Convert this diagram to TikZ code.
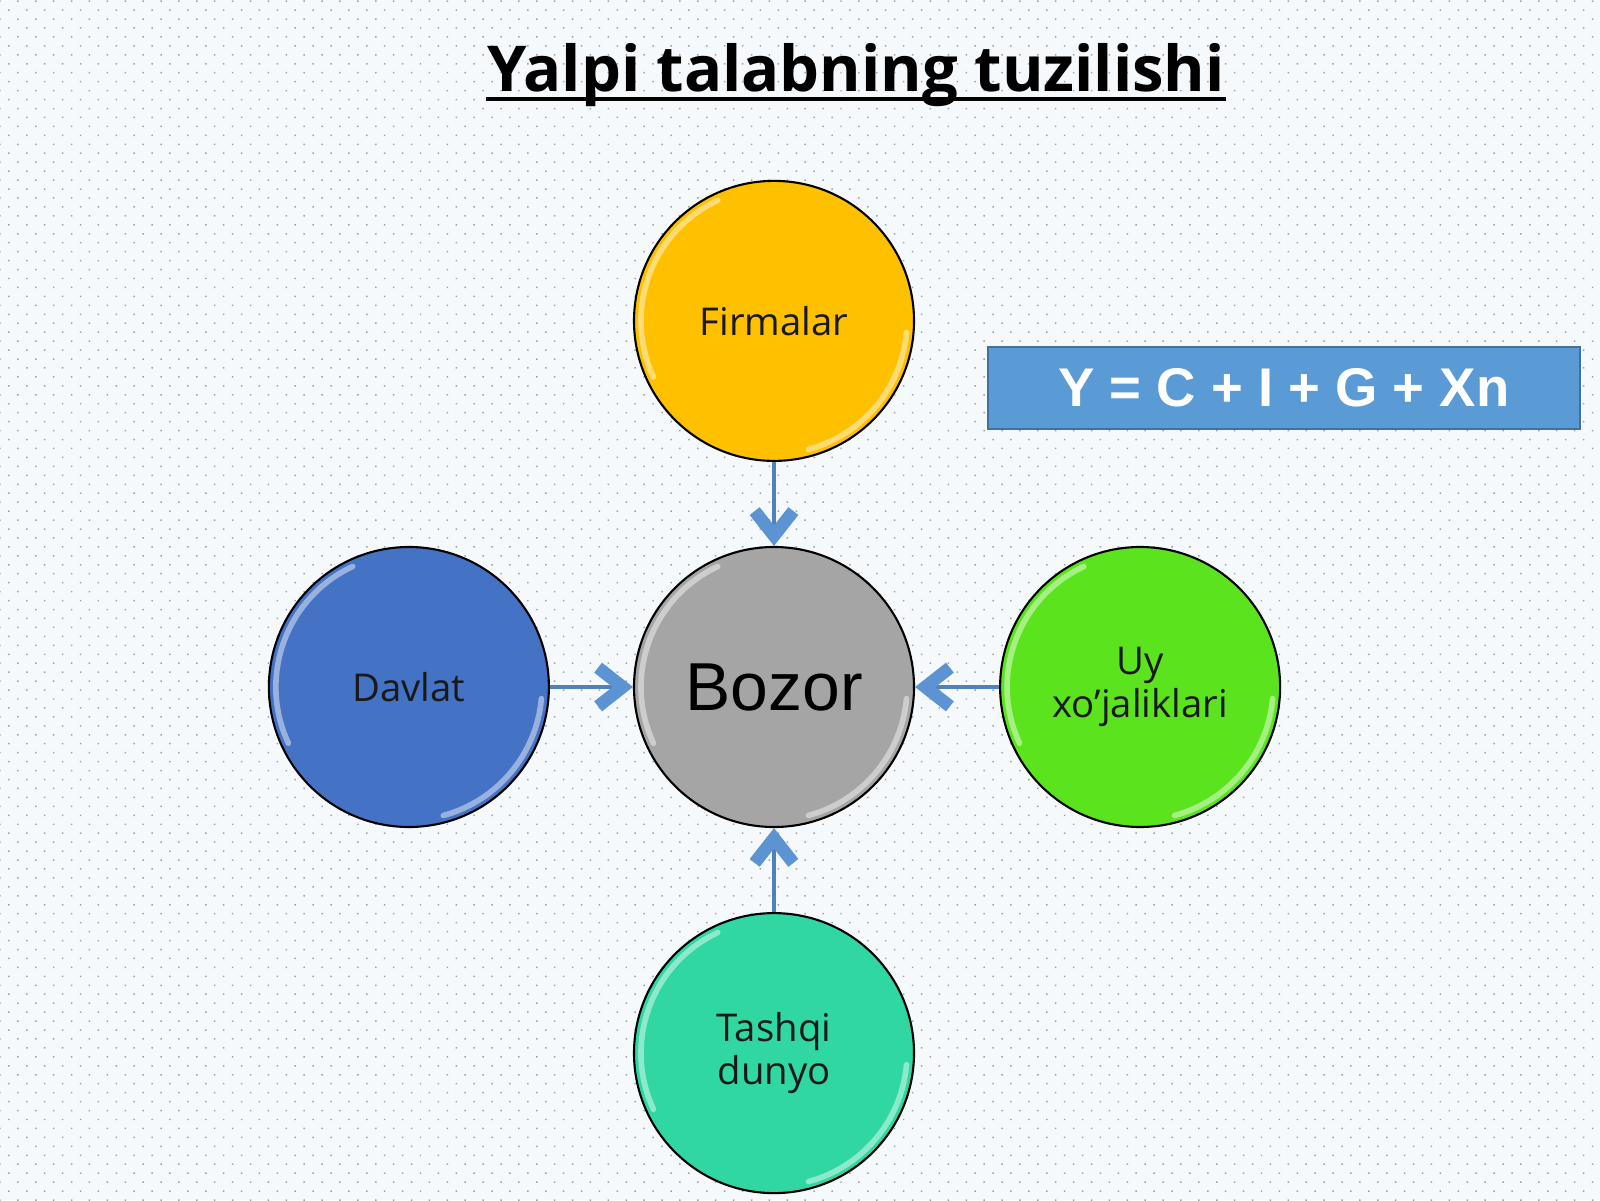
\documentclass[tikz,border=0pt]{standalone}
\usepackage{fontspec}
\setmainfont{Open Sans}
\newfontfamily\arialfont{Liberation Sans}
\usetikzlibrary{positioning, arrows.meta, patterns.meta}
\definecolor{bgcol}{HTML}{F6F9FC}
\definecolor{dotcol}{HTML}{9AA3AD}
\definecolor{firmcol}{HTML}{FFC000}
\definecolor{bozorcol}{HTML}{A5A5A5}
\definecolor{davlatcol}{HTML}{4472C4}
\definecolor{uycol}{HTML}{5BE41E}
\definecolor{tashqicol}{HTML}{30D7A2}
\definecolor{boxcol}{HTML}{5B9BD5}
\definecolor{boxedge}{HTML}{41719C}
\definecolor{linkcol}{HTML}{4F81BD}
\definecolor{tipcol}{HTML}{5B93D3}

\tikzset{
  sector/.style={circle, draw=black, line width=0.6pt, minimum size=2.8cm,
    inner sep=0pt, align=center, text=black!90,
    font=\fontsize{10.9}{12.2}\selectfont},
  bevel/.style={white, opacity=0.45, line width=1.6pt, line cap=round},
  flow/.style={draw=linkcol, line width=1pt,
    -{Straight Barb[length=7pt, width=11pt, line width=3.6pt, color=tipcol]}}
}

\begin{document}
\begin{tikzpicture}
  \useasboundingbox (0,0) rectangle (16,12);

  % Dotted background
  \fill[bgcol] (0,0) rectangle (16,12);
  \fill[pattern={Dots[radius=0.3pt, distance=3.6pt, angle=45]}, pattern color=dotcol]
    (0,0) rectangle (16,12);

  % Title
  \node[font=\bfseries\fontsize{18}{22}\selectfont, anchor=base, inner sep=0pt] (title)
    at (8.56,11.08) {Yalpi talabning tuzilishi};
  \draw[line width=0.9pt] ([yshift=-2pt]title.base west) -- ([yshift=-2pt]title.base east);

  % Market in the middle
  \node[sector, fill=bozorcol, font=\arialfont\fontsize{19.3}{22}\selectfont, text=black]
    (bozor) at (7.74,5.13) {Bozor};

  % Sectors around it
  \node[sector, fill=firmcol, above=0.84cm of bozor] (firm) {Firmalar};
  \node[sector, fill=davlatcol, left=0.83cm of bozor] (davlat) {Davlat};
  \node[sector, fill=uycol, right=0.84cm of bozor] (uy) {Uy\\xo’jaliklari};
  \node[sector, fill=tashqicol, below=0.84cm of bozor] (tashqi) {Tashqi\\dunyo};

  % Highlights on the rims
  \foreach \n in {firm, bozor, davlat, uy, tashqi} {
    \draw[bevel] (\n.center) ++(115:1.33) arc[start angle=115, end angle=205, radius=1.33];
    \draw[bevel] (\n.center) ++(-5:1.33) arc[start angle=-5, end angle=-75, radius=1.33];
  }

  % Flows into the market
  \draw[flow] (firm) -- (bozor);
  \draw[flow] (davlat) -- (bozor);
  \draw[flow] (uy) -- (bozor);
  \draw[flow] (tashqi) -- (bozor);

  % Formula
  \node[draw=boxedge, line width=0.8pt, fill=boxcol, minimum width=5.92cm, minimum height=0.82cm,
    text=white, font=\arialfont\bfseries\fontsize{15.5}{18}\selectfont] (formula) at (12.84,8.12)
    {Y = C + I + G + Xn};
\end{tikzpicture}
\end{document}
